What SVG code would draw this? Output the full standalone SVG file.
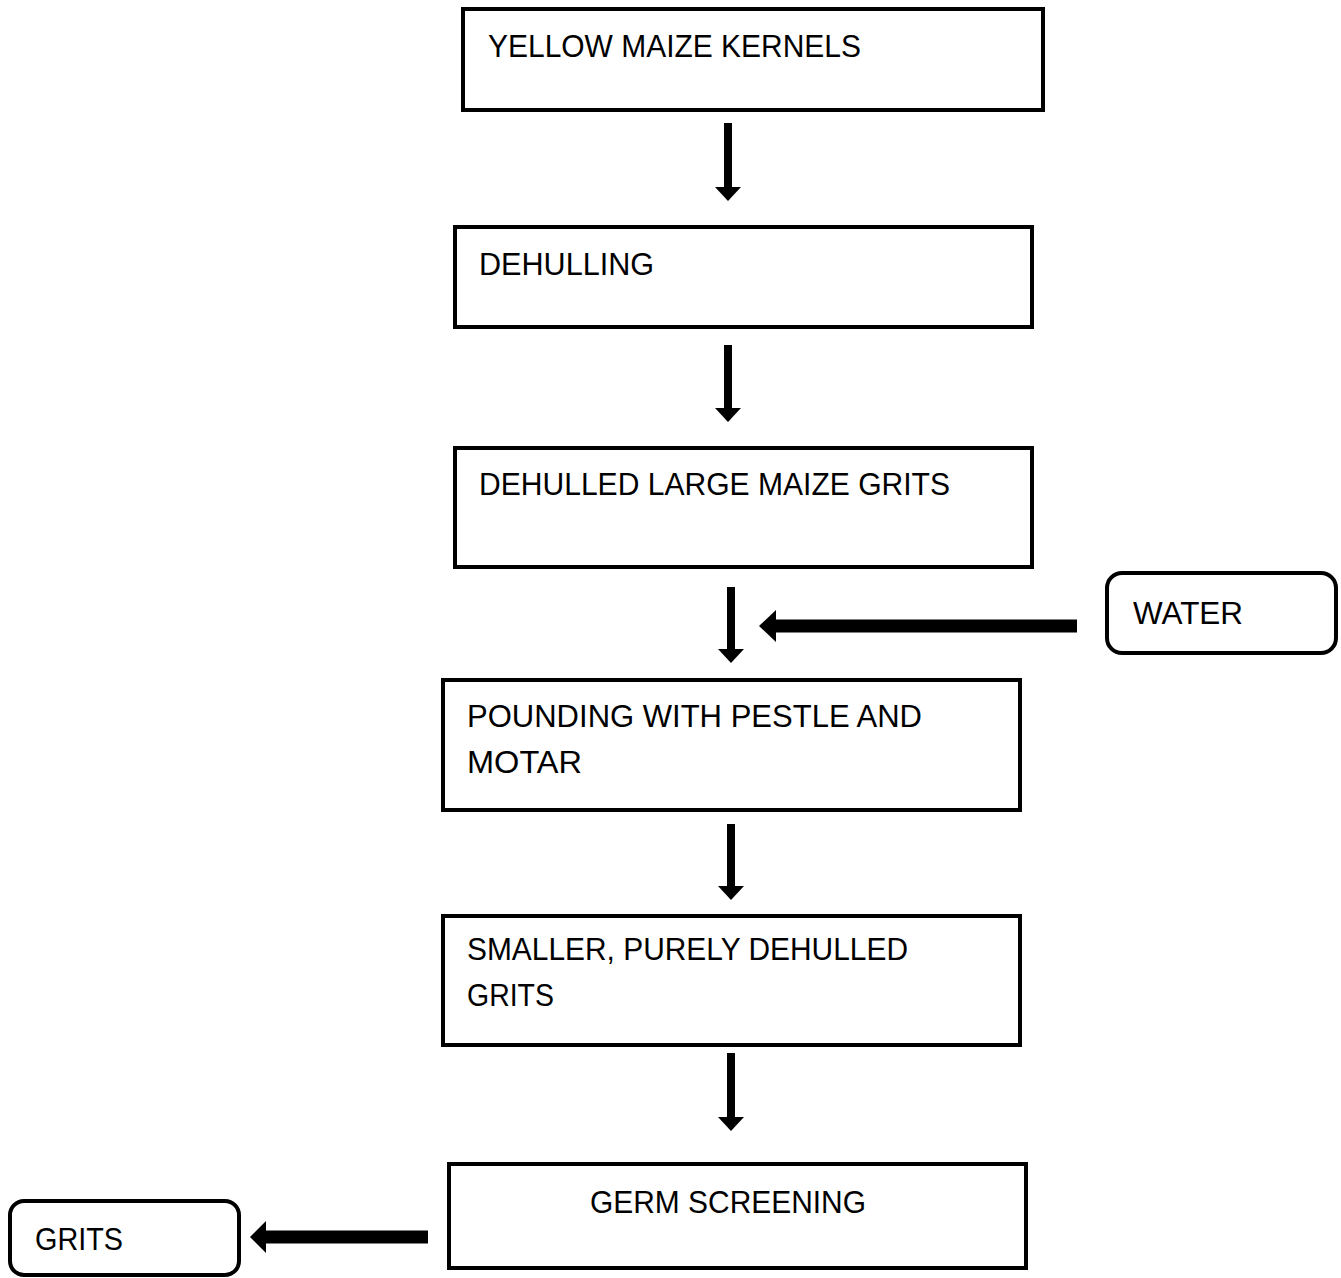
<svg xmlns="http://www.w3.org/2000/svg" width="1341" height="1278" viewBox="0 0 1341 1278">
<defs>
<style>
.box{fill:#fff;stroke:#000;stroke-width:4}
.rbox{fill:#fff;stroke:#000;stroke-width:4}
.t{font-family:"Liberation Sans",Arial,sans-serif;font-size:31.5px;fill:#000}
.shaft{stroke:#000;stroke-width:8;fill:none}
.thick{stroke:#000;stroke-width:13;fill:none}
.head{fill:#000}
</style>
</defs>
<rect width="1341" height="1278" fill="#fff"/>
<g id="n1"><rect class="box" x="463" y="9" width="580" height="101"/><text class="t" x="488" y="57" textLength="373" lengthAdjust="spacingAndGlyphs">YELLOW MAIZE KERNELS</text></g>
<g id="n2"><rect class="box" x="455" y="227" width="577" height="100"/><text class="t" x="479" y="275" textLength="175" lengthAdjust="spacingAndGlyphs">DEHULLING</text></g>
<g id="n3"><rect class="box" x="455" y="448" width="577" height="119"/><text class="t" x="479" y="495" textLength="471" lengthAdjust="spacingAndGlyphs">DEHULLED LARGE MAIZE GRITS</text></g>
<g id="water"><rect class="rbox" x="1107" y="573" width="229" height="80" rx="15"/><text class="t" x="1133" y="624" textLength="110" lengthAdjust="spacingAndGlyphs">WATER</text></g>
<g id="n4"><rect class="box" x="443" y="680" width="577" height="130"/><text class="t" x="467" y="727" textLength="455" lengthAdjust="spacingAndGlyphs">POUNDING WITH PESTLE AND</text><text class="t" x="467" y="773" textLength="115" lengthAdjust="spacingAndGlyphs">MOTAR</text></g>
<g id="n5"><rect class="box" x="443" y="916" width="577" height="129"/><text class="t" x="467" y="960" textLength="441" lengthAdjust="spacingAndGlyphs">SMALLER, PURELY DEHULLED</text><text class="t" x="467" y="1006" textLength="87" lengthAdjust="spacingAndGlyphs">GRITS</text></g>
<g id="n6"><rect class="box" x="449" y="1164" width="577" height="104"/><text class="t" x="590" y="1213" textLength="276" lengthAdjust="spacingAndGlyphs">GERM SCREENING</text></g>
<g id="grits"><rect class="rbox" x="10" y="1201" width="229" height="74" rx="14"/><text class="t" x="35" y="1250" textLength="88" lengthAdjust="spacingAndGlyphs">GRITS</text></g>
<g id="connectors">
<line class="shaft" x1="728" y1="123" x2="728" y2="189"/><polygon class="head" points="715,187 741,187 728,201"/>
<line class="shaft" x1="728" y1="345" x2="728" y2="410"/><polygon class="head" points="715,408 741,408 728,422"/>
<line class="shaft" x1="731" y1="587" x2="731" y2="651"/><polygon class="head" points="718,649 744,649 731,663"/>
<line class="shaft" x1="731" y1="824" x2="731" y2="888"/><polygon class="head" points="718,886 744,886 731,900"/>
<line class="shaft" x1="731" y1="1053" x2="731" y2="1119"/><polygon class="head" points="718,1117 744,1117 731,1131"/>
<line class="thick" x1="1077" y1="626" x2="774" y2="626"/><polygon class="head" points="759,626 776,610 776,642"/>
<line class="thick" x1="428" y1="1237" x2="264" y2="1237"/><polygon class="head" points="250,1237 266,1221 266,1253"/>
</g>
</svg>
